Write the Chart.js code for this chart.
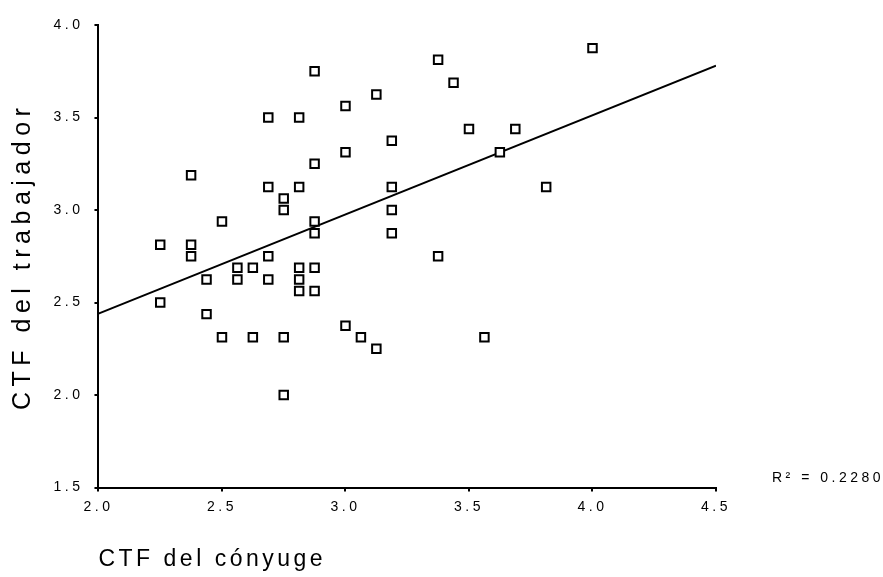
<!DOCTYPE html>
<html>
<head>
<meta charset="utf-8">
<script src="https://cdn.jsdelivr.net/npm/chart.js@4.4.1/dist/chart.umd.min.js"></script>
<style>
  html, body { margin: 0; padding: 0; background: #fff; }
  #wrap { width: 883px; height: 577px; }
</style>
</head>
<body>
<div id="wrap"><canvas id="scatter-chart"></canvas></div>
<script>
// CTF del cónyuge (x) vs CTF del trabajador (y)
var conyuge = [2.875, 3.125, 3.0, 2.6875, 2.8125, 3.1875, 3.0, 2.875, 2.375, 2.6875,
  2.8125, 3.1875, 2.75, 2.75, 3.1875, 2.5, 2.875, 2.875, 3.1875, 2.25,
  2.375, 2.375, 2.6875, 3.375, 3.4375, 4.0, 3.5, 3.6875, 3.625, 3.8125,
  3.375, 2.5625, 2.625, 2.8125, 2.875, 2.4375, 2.5625, 2.6875, 2.8125, 2.8125,
  2.875, 2.25, 2.4375, 2.5, 2.625, 2.75, 3.0, 3.0625, 3.125, 2.75, 3.5625];
var trabajador = [3.75, 3.625, 3.5625, 3.5, 3.5, 3.375, 3.3125, 3.25, 3.1875, 3.125,
  3.125, 3.125, 3.0625, 3.0, 3.0, 2.9375, 2.9375, 2.875, 2.875, 2.8125,
  2.8125, 2.75, 2.75, 3.8125, 3.6875, 3.875, 3.4375, 3.4375, 3.3125, 3.125,
  2.75, 2.6875, 2.6875, 2.6875, 2.6875, 2.625, 2.625, 2.625, 2.625, 2.5625,
  2.5625, 2.5, 2.4375, 2.3125, 2.3125, 2.3125, 2.375, 2.3125, 2.25, 2.0, 2.3125];

// recta de regresión (extremos)
var lineaX = [2.0, 4.5];
var lineaY = [2.44, 3.78];
var r2Text = "R\u00B2 = 0.2280";

var xTicks = [2.0, 2.5, 3.0, 3.5, 4.0, 4.5];
var yTicks = [1.5, 2.0, 2.5, 3.0, 3.5, 4.0];

var puntos = conyuge.map(function (x, i) { return { x: x, y: trabajador[i] }; });
var linea = lineaX.map(function (x, i) { return { x: x, y: lineaY[i] }; });

var fontFam = "'Liberation Sans', Arial, sans-serif";
// espaciado de letras: texto general y títulos de ejes
var textSpacing = '3.5px';
var titleSpacing = { x: '3.5px', y: '5.5px' };

var spacingPlugin = {
  id: 'spacing',
  beforeDraw: function (chart) {
    chart.ctx.letterSpacing = textSpacing;
    ['x', 'y'].forEach(function (id) {
      var s = chart.scales[id];
      if (s._spaced) return;
      var orig = s.drawTitle;
      s.drawTitle = function () {
        this.ctx.letterSpacing = titleSpacing[id];
        orig.apply(this, arguments);
        this.ctx.letterSpacing = textSpacing;
      };
      s._spaced = true;
    });
  },
  afterDraw: function (chart) {
    // texto R² a la derecha del eje x
    var ctx = chart.ctx;
    ctx.save();
    ctx.fillStyle = '#000';
    ctx.font = '14px ' + fontFam;
    ctx.textAlign = 'left';
    ctx.textBaseline = 'middle';
    ctx.fillText(r2Text, chart.chartArea.right + 56, chart.chartArea.bottom - 9);
    ctx.restore();
    ctx.letterSpacing = '0px';
  }
};

var ctx = document.getElementById("scatter-chart").getContext('2d');
var chart = new Chart(ctx, {
  type: 'scatter',
  data: {
    datasets: [
      {
        label: 'Datos',
        data: puntos,
        pointStyle: 'rect',
        pointRadius: 6,
        pointHoverRadius: 6,
        borderColor: '#000',
        backgroundColor: '#fff',
        borderWidth: 2
      },
      {
        label: 'Regresión',
        type: 'line',
        data: linea,
        borderColor: '#000',
        borderWidth: 2,
        pointRadius: 0,
        fill: false
      }
    ]
  },
  options: {
    responsive: true,
    maintainAspectRatio: false,
    animation: false,
    layout: { padding: { top: 25, right: 167, bottom: 4, left: 8 } },
    plugins: {
      legend: { display: false },
      tooltip: { enabled: false }
    },
    scales: {
      x: {
        type: 'linear',
        min: 2.0,
        max: 4.5,
        afterBuildTicks: function (axis) { axis.ticks = xTicks.map(function (v) { return { value: v }; }); },
        border: { color: '#000', width: 2 },
        grid: { drawOnChartArea: false, drawTicks: true, tickLength: 4, color: '#000', lineWidth: 2 },
        ticks: {
          color: '#000',
          padding: 7,
          maxRotation: 0,
          font: { family: fontFam, size: 14 },
          callback: function (v) { return v.toFixed(1); }
        },
        title: {
          display: true,
          text: 'CTF del cónyuge',
          align: 'start',
          color: '#000',
          font: { family: fontFam, size: 23 },
          padding: { top: 23, bottom: 0 }
        }
      },
      y: {
        type: 'linear',
        min: 1.5,
        max: 4.0,
        afterBuildTicks: function (axis) { axis.ticks = yTicks.map(function (v) { return { value: v }; }); },
        border: { color: '#000', width: 2 },
        grid: { drawOnChartArea: false, drawTicks: true, tickLength: 4, color: '#000', lineWidth: 2 },
        ticks: {
          color: '#000',
          padding: 11,
          font: { family: fontFam, size: 14 },
          callback: function (v) { return v.toFixed(1); }
        },
        title: {
          display: true,
          text: 'CTF del trabajador',
          color: '#000',
          font: { family: fontFam, size: 25 },
          padding: { top: 0, bottom: 15 }
        }
      }
    }
  },
  plugins: [spacingPlugin]
});
</script>
</body>
</html>
